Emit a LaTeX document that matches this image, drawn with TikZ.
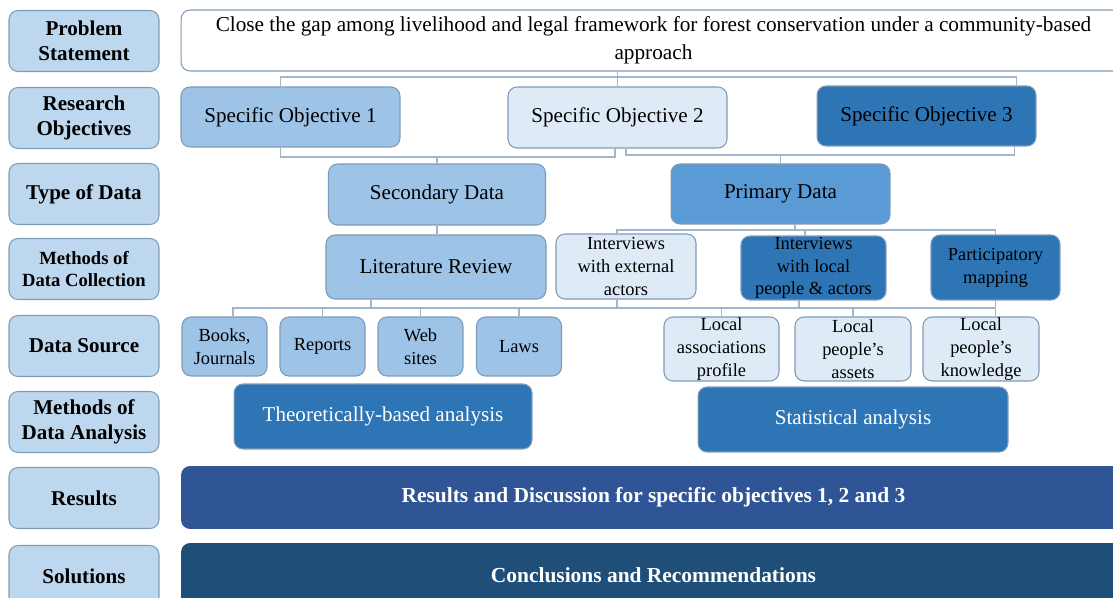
\documentclass[tikz,border=0pt]{standalone}
\usepackage{fontspec}
\setmainfont{Liberation Serif}
\definecolor{edgegray}{HTML}{7F9BB5}
\definecolor{linkgray}{HTML}{9FB6CD}
\definecolor{labfill}{HTML}{BDD7EE}
\definecolor{lightfill}{HTML}{DEEBF7}
\definecolor{midfill}{HTML}{9DC3E6}
\definecolor{primfill}{HTML}{5B9BD5}
\definecolor{darkfill}{HTML}{2E75B6}
\definecolor{resfill}{HTML}{2F5597}
\definecolor{solfill}{HTML}{1F4E79}

\begin{document}
\begin{tikzpicture}[x=0.02cm, y=-0.02cm,
  every node/.style={rounded corners=0.18cm, draw=edgegray, line width=0.6pt, align=center, inner sep=0pt},
  rowlab/.style={fill=labfill, minimum width=3cm, minimum height=1.22cm, font=\fontsize{12}{14}\selectfont\bfseries},
  whitebox/.style={fill=white, font=\fontsize{12.1}{16}\selectfont},
  midbox/.style={fill=midfill, font=\fontsize{12}{14}\selectfont},
  lightbox/.style={fill=lightfill, font=\fontsize{12}{14}\selectfont},
  darkbox/.style={fill=darkfill, font=\fontsize{12}{14}\selectfont},
  smallbox/.style={font=\fontsize{10.5}{13}\selectfont},
  bandbox/.style={draw=none, text=white, minimum width=18.9cm, font=\fontsize{12.2}{14}\selectfont\bfseries},
  link/.style={draw=linkgray, line width=0.7pt}]
\clip (0,0) rectangle (1113,598);
\fill[white] (0,0) rectangle (1113,598);
% row labels
\node[rowlab] (L1) at (84,41) {Problem\\Statement};
\node[rowlab] (L2) at (84,118) {Research\\Objectives};
\node[rowlab] (L3) at (84,194) {Type of Data};
\node[rowlab, font=\fontsize{10.6}{13}\selectfont\bfseries] (L4) at (84,269) {Methods of\\Data Collection};
\node[rowlab] (L5) at (84,346) {Data Source};
\node[rowlab] (L6) at (84,422) {Methods of\\Data Analysis};
\node[rowlab] (L7) at (84,498) {Results};
\node[rowlab] (L8) at (84,576) {Solutions};
% problem and objectives
\node[whitebox, minimum width=18.9cm, minimum height=1.22cm] (Prob) at (653.5,40.5) {Close the gap among livelihood and legal framework for forest conservation under a community-based\\approach};
\node[midbox, minimum width=4.38cm, minimum height=1.2cm] (SO1) at (290.5,117) {Specific Objective 1};
\node[lightbox, minimum width=4.38cm, minimum height=1.22cm] (SO2) at (617.5,117.5) {Specific Objective 2};
\node[darkbox, minimum width=4.38cm, minimum height=1.2cm] (SO3) at (926.5,116) {Specific Objective 3};
% type of data
\node[midbox, minimum width=4.34cm, minimum height=1.22cm] (Sec) at (437,194.5) {Secondary Data};
\node[midbox, fill=primfill, minimum width=4.38cm, minimum height=1.2cm] (Prim) at (780.5,194) {Primary Data};
% collection
\node[midbox, minimum width=4.4cm, minimum height=1.28cm] (Lit) at (436,267) {Literature Review};
\node[lightbox, smallbox, minimum width=2.8cm, minimum height=1.3cm] (IntExt) at (626,266.5) {Interviews\\with external\\actors};
\node[darkbox, smallbox, minimum width=2.9cm, minimum height=1.28cm] (IntLoc) at (813.5,268) {Interviews\\with local\\people \& actors};
\node[darkbox, smallbox, minimum width=2.58cm, minimum height=1.3cm] (Part) at (995.5,267.5) {Participatory\\mapping};
% sources
\node[midbox, smallbox, minimum width=1.7cm, minimum height=1.18cm] (Books) at (224.5,346.5) {Books,\\Journals};
\node[midbox, smallbox, minimum width=1.7cm, minimum height=1.18cm] (Rep) at (322.5,346.5) {Reports};
\node[midbox, smallbox, minimum width=1.7cm, minimum height=1.18cm] (Web) at (420.5,346.5) {Web\\sites};
\node[midbox, smallbox, minimum width=1.7cm, minimum height=1.18cm] (Laws) at (519,346.5) {Laws};
\node[lightbox, smallbox, minimum width=2.3cm, minimum height=1.28cm] (LocA) at (721.5,349) {Local\\associations\\profile};
\node[lightbox, smallbox, minimum width=2.32cm, minimum height=1.28cm] (LocP) at (853,349) {Local\\people's\\assets};
\node[lightbox, smallbox, minimum width=2.32cm, minimum height=1.28cm] (LocK) at (981,349) {Local\\people's\\knowledge};
% analysis, results, solutions
\node[darkbox, text=white, minimum width=5.96cm, minimum height=1.3cm] (Theo) at (383,416.5) {Theoretically-based analysis};
\node[darkbox, text=white, minimum width=6.2cm, minimum height=1.3cm] (Stat) at (853,419.5) {Statistical analysis};
\node[bandbox, fill=resfill, minimum height=1.26cm] (Res) at (653.5,497.5) {Results and Discussion for specific objectives 1, 2 and 3};
\node[bandbox, fill=solfill, minimum height=1.28cm] (Sol) at (653.5,575) {Conclusions and Recommendations};
% connectors
\coordinate (bus1) at (SO2.north |- 0,77);
\draw[link] (Prob.south -| SO2.north) -- (SO2.north);
\draw[link] ([xshift=-0.2cm]SO1.north) |- (bus1) -| ([xshift=-0.4cm]SO3.north east);
\coordinate (bus2) at (Sec.north |- 0,157);
\draw[link] ([xshift=-0.2cm]SO1.south) |- (bus2) -| ([xshift=-0.05cm]SO2.south);
\draw[link] (bus2) -- (Sec.north);
\coordinate (bus3) at (Prim.north |- 0,155);
\draw[link] ([xshift=0.17cm]SO2.south) |- (bus3) -| ([xshift=-0.44cm]SO3.south east);
\draw[link] (bus3) -- (Prim.north);
\draw[link] (Sec.south) -- (Sec.south |- Lit.north);
\coordinate (bus4) at ([xshift=0.29cm]Prim.south |- 0,230);
\draw[link] ([xshift=0.29cm]Prim.south) -- (bus4);
\draw[link] ([xshift=-0.18cm]IntExt.north) |- (bus4) -| (Part.north);
\draw[link] ([xshift=-0.17cm]IntLoc.north) -- ([xshift=-0.17cm]IntLoc.north |- bus4);
\coordinate (bus5) at (Part.south |- 0,308);
\draw[link] ([xshift=0.17cm]Books.north) |- (bus5) -- (Part.south);
\draw[link] (bus5) -- (bus5 |- LocK.north);
\draw[link] ([xshift=-1.3cm]Lit.south) -- ([xshift=-1.3cm]Lit.south |- bus5);
\draw[link] (Rep.north) -- (Rep.north |- bus5);
\draw[link] (Web.north) -- (Web.north |- bus5);
\draw[link] (Laws.north) -- (Laws.north |- bus5);
\draw[link] ([xshift=-0.18cm]IntExt.south) -- ([xshift=-0.18cm]IntExt.south |- bus5);
\draw[link] ([xshift=-0.29cm]IntLoc.south) -- ([xshift=-0.29cm]IntLoc.south |- bus5);
\draw[link] (LocA.north) -- (LocA.north |- bus5);
\draw[link] (LocP.north) -- (LocP.north |- bus5);
\end{tikzpicture}
\end{document}
